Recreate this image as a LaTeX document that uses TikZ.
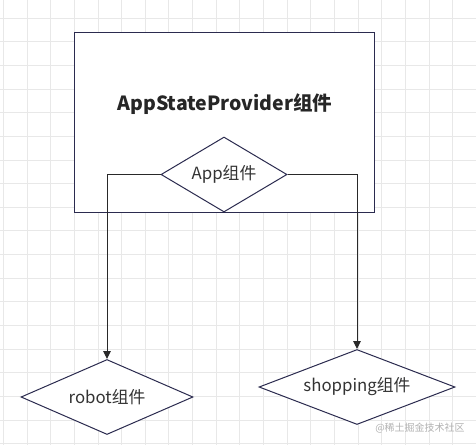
\documentclass[tikz,border=0pt]{standalone}
\usepackage{fontspec}
\setmainfont{Noto Sans CJK SC}
\usetikzlibrary{positioning,arrows.meta,shapes.geometric}

\definecolor{framecol}{HTML}{2B2B4F}
\definecolor{textcol}{HTML}{333333}
\definecolor{gridcol}{HTML}{E8E8E8}

\begin{document}
\begin{tikzpicture}[
    x=1pt, y=-1pt,
    gridline/.style={draw=gridcol, line width=0.8pt},
    provider/.style={draw=framecol, line width=1pt, minimum width=300pt, minimum height=180pt,
                     inner sep=0pt, fill=white},
    comp/.style={diamond, aspect=2.2, draw=framecol, line width=1pt, fill=white, inner sep=0pt,
                 minimum height=75pt, text=textcol, font=\fontsize{16.8}{19}\selectfont},
    arr/.style={-{Triangle[length=8pt, width=7.5pt]}, line width=1pt, draw=textcol!80!black},
  ]
    \useasboundingbox (0,0) rectangle (476,445);
    \fill[white] (0,0) rectangle (476,445);

    % Background grid
    \foreach \i in {0,...,19}
      \draw[gridline] ({3.3+23.65*\i},0) -- ++(0,445);
    \foreach \j in {0,...,18}
      \draw[gridline] (0,{18+23.65*\j}) -- ++(476,0);

    % Provider frame
    \node[provider] (frame) at (224,122) {};
    \node[font=\fontsize{19.5}{22}\selectfont\bfseries, text=black!85] (title) at (225,104)
        {AppStateProvider组件};

    % Components
    \node[comp, minimum width=126pt] (app)      at (224,174.5) {App组件};
    \node[comp, minimum width=172pt] (robot)    at (107,397)   {robot组件};
    \node[comp, minimum width=196pt] (shopping) at (357,387)   {shopping组件};

    % Arrows
    \draw[arr] (app.west) -| (robot.north);
    \draw[arr] (app.east) -| (shopping.north);

    % Watermark
    \node[font=\fontsize{10}{12}\selectfont, text=gray!60] (mark) at (420,428)
        {@稀土掘金技术社区};
\end{tikzpicture}
\end{document}
